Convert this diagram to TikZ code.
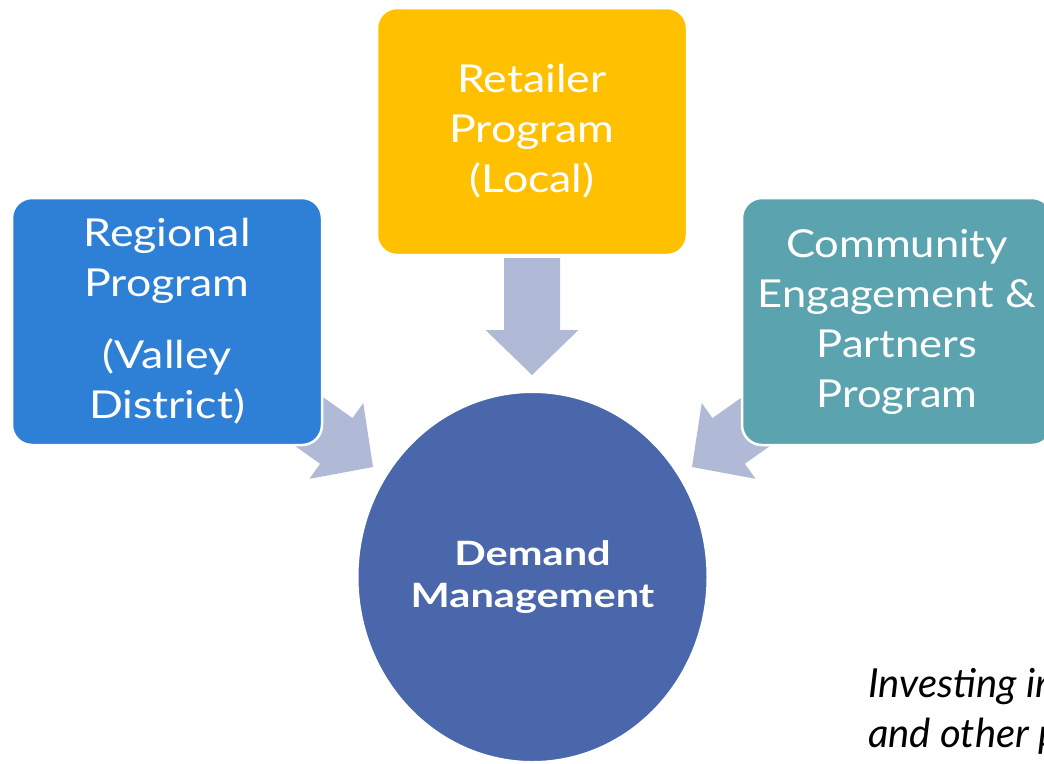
\documentclass[tikz,border=0pt]{standalone}
\usepackage{fontspec}
\setmainfont{Lato}
\newfontfamily\progfont[FakeStretch=1.16]{Lato}
\newfontfamily\widefont[FakeStretch=1.13]{Lato}
\newfontfamily\hubfont[FakeStretch=1.24]{Lato}
\usetikzlibrary{shapes.geometric}

\definecolor{regblue}{RGB}{46,128,214}
\definecolor{retyellow}{RGB}{255,192,0}
\definecolor{comteal}{RGB}{91,163,174}
\definecolor{dmblue}{RGB}{74,103,172}
\definecolor{flowgrey}{RGB}{176,185,214}

\tikzset{
  prog/.style={rounded corners=20pt, draw=white, line width=2.5pt,
    minimum width=310pt, minimum height=247pt, inner sep=0pt,
    text=white, align=center, font=\progfont\fontsize{38.5}{50}\selectfont},
  hub/.style={ellipse, draw=white, line width=2pt, fill=dmblue,
    minimum width=350pt, minimum height=370pt, inner sep=0pt,
    text=white, align=center, font=\hubfont\fontsize{33.5}{42}\selectfont\bfseries},
  note/.style={align=left, inner sep=0pt,
    font=\fontsize{40}{50}\selectfont\itshape},
  blockarrow/.pic={
    \fill[flowgrey] (0,0) -- (-46.5,-45) -- (-28,-45) -- (-28,-117)
      -- (28,-117) -- (28,-45) -- (46.5,-45) -- cycle;
  }
}

\begin{document}
\begin{tikzpicture}[x=1pt,y=-1pt]
\useasboundingbox (0,0) rectangle (1044,763);
\clip (0,0) rectangle (1044,763);

% tips of the three block arrows
\coordinate (tipL) at (373,467);
\coordinate (tipT) at (532,375);
\coordinate (tipR) at (692,467);

% arrows lie beneath the boxes
\pic[rotate=54.6] at (tipL) {blockarrow};
\pic at (tipT) {blockarrow};
\pic[rotate=-54.6] at (tipR) {blockarrow};

% program boxes
\node[prog, fill=regblue] (reg) at (167,321.5)
  {Regional\\Program\\[22pt](Valley\\District)};
\node[prog, fill=retyellow] (ret) at (532,131.5)
  {Retailer\\Program\\(Local)};
\node[prog, fill=comteal, font=\widefont\fontsize{38.5}{50}\selectfont] (com) at (897,321.5)
  {Community\\Engagement \&\\Partners\\Program};

% central circle
\node[hub] (dm) at (532.5,577) {Demand\\Management};

% side note, running past the right edge
\node[note, anchor=base west] (inv) at (868,747)
  {Investing in\\and other p};
\end{tikzpicture}
\end{document}
